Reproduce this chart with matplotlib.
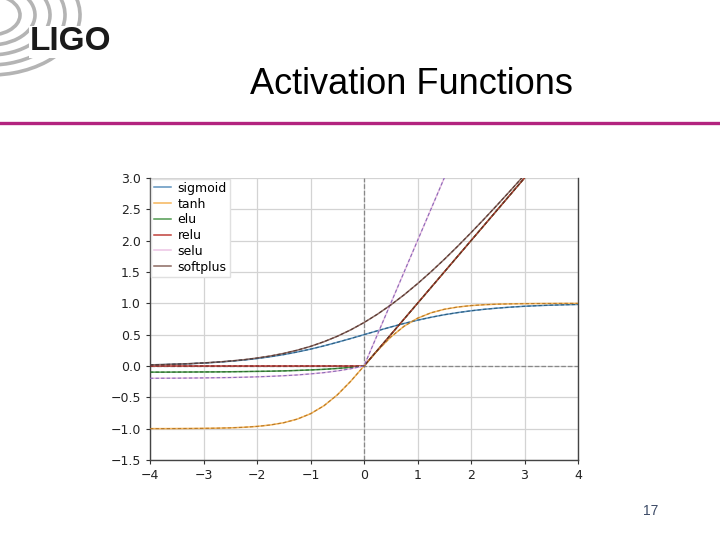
import matplotlib
matplotlib.use("Agg")
import matplotlib.pyplot as plt
from matplotlib.patches import Arc

# x samples and values
x_vals = [-4.0, -3.75, -3.5, -3.25, -3.0, -2.75, -2.5, -2.25, -2.0, -1.75, -1.5,
          -1.25, -1.0, -0.75, -0.5, -0.25, 0.0, 0.25, 0.5, 0.75, 1.0, 1.25, 1.5,
          1.75, 2.0, 2.25, 2.5, 2.75, 3.0, 3.25, 3.5, 3.75, 4.0]

sigmoid = [0.018, 0.023, 0.029, 0.037, 0.047, 0.060, 0.076, 0.095, 0.119, 0.148, 0.182,
           0.223, 0.269, 0.321, 0.378, 0.438, 0.500, 0.562, 0.622, 0.679, 0.731, 0.777,
           0.818, 0.852, 0.881, 0.905, 0.924, 0.940, 0.953, 0.963, 0.971, 0.977, 0.982]
tanh = [-0.999, -0.999, -0.998, -0.997, -0.995, -0.992, -0.987, -0.978, -0.964, -0.941,
        -0.905, -0.848, -0.762, -0.635, -0.462, -0.245, 0.0, 0.245, 0.462, 0.635, 0.762,
        0.848, 0.905, 0.941, 0.964, 0.978, 0.987, 0.992, 0.995, 0.997, 0.998, 0.999, 0.999]
elu = [-0.098, -0.098, -0.097, -0.096, -0.095, -0.094, -0.092, -0.089, -0.086, -0.083,
       -0.078, -0.071, -0.063, -0.053, -0.039, -0.022, 0.0, 0.25, 0.5, 0.75, 1.0, 1.25,
       1.5, 1.75, 2.0, 2.25, 2.5, 2.75, 3.0, 3.25, 3.5, 3.75, 4.0]
relu = [0.0, 0.0, 0.0, 0.0, 0.0, 0.0, 0.0, 0.0, 0.0, 0.0, 0.0, 0.0, 0.0, 0.0, 0.0, 0.0,
        0.0, 0.25, 0.5, 0.75, 1.0, 1.25, 1.5, 1.75, 2.0, 2.25, 2.5, 2.75, 3.0, 3.25, 3.5,
        3.75, 4.0]
selu = [-0.196, -0.195, -0.194, -0.192, -0.190, -0.187, -0.184, -0.179, -0.173, -0.165,
        -0.155, -0.143, -0.126, -0.106, -0.079, -0.044, 0.0, 0.5, 1.0, 1.5, 2.0, 2.5,
        3.0, 3.5, 4.0, 4.5, 5.0, 5.5, 6.0, 6.5, 7.0, 7.5, 8.0]
softplus = [0.018, 0.023, 0.030, 0.038, 0.049, 0.062, 0.079, 0.100, 0.127, 0.160, 0.201,
            0.252, 0.313, 0.387, 0.474, 0.576, 0.693, 0.826, 0.974, 1.136, 1.313, 1.502,
            1.701, 1.910, 2.127, 2.350, 2.579, 2.812, 3.049, 3.288, 3.530, 3.773, 4.018]

names = ['sigmoid', 'tanh', 'elu', 'relu', 'selu', 'softplus']
series = [sigmoid, tanh, elu, relu, selu, softplus]
x_ticks = [-4, -3, -2, -1, 0, 1, 2, 3, 4]
y_ticks = [-1.5, -1.0, -0.5, 0.0, 0.5, 1.0, 1.5, 2.0, 2.5, 3.0]

# solid colours (legend) and darker dashed overlay
solid_cols = ['#5f93bf', '#f5b55a', '#4f9a4f', '#c0403a', '#ecc3e4', '#8c6a62']
dash_cols = ['#2d5f80', '#b87a2a', '#2e6a2e', '#7a2320', '#8a6ab8', '#5a3a34']

fig = plt.figure(figsize=(7.2, 5.4), dpi=100)

# --- slide decoration ---
W, H = 720, 540
for a in [30, 45, 60, 75, 90]:
    arc = Arc((-10 / W, 1 - 15 / H), 2 * a / W, 2 * a * 0.667 / H, theta1=-100, theta2=95,
              transform=fig.transFigure, color='#b4b4b4', lw=2.6)
    fig.add_artist(arc)
fig.text(30 / W, 1 - 42 / H, 'LIGO', family='Liberation Sans', weight='bold',
         fontsize=24, color='#1a1a1a', va='center', ha='left',
         bbox=dict(facecolor='white', edgecolor='none', pad=0.5))
fig.text(411 / W, 1 - 84 / H, 'Activation Functions', family='Liberation Sans',
         fontsize=26, color='black', ha='center', va='center')
fig.add_artist(plt.Line2D([0, 1], [1 - 122.5 / H, 1 - 122.5 / H],
                          transform=fig.transFigure, color='#b3247f', lw=2.4))
fig.text(651 / W, 1 - 511 / H, '17', family='Liberation Sans', fontsize=10,
         color='#3c4a66', ha='center', va='center')

# --- chart ---
ax = fig.add_axes([150 / W, 1 - 460 / H, 428 / W, 282 / H])
ax.grid(True, color='#d3d3d3', lw=0.9)
ax.set_axisbelow(True)
ax.axhline(0, color='#888888', ls='--', lw=0.9, zorder=1)
ax.axvline(0, color='#888888', ls='--', lw=0.9, zorder=1)

for name, y, sc, dc in zip(names, series, solid_cols, dash_cols):
    ax.plot(x_vals, y, color=sc, lw=1.1, label=name, zorder=2)
    ax.plot(x_vals, y, color=dc, lw=0.8, ls=(0, (3, 2)), zorder=3)

ax.set_xlim(-4, 4)
ax.set_ylim(-1.5, 3.0)
ax.set_xticks(x_ticks)
ax.set_yticks(y_ticks)
ax.tick_params(labelsize=9, length=3, color='#333333', labelcolor='#222222')
ax.spines['top'].set_visible(False)
for s in ['left', 'bottom', 'right']:
    ax.spines[s].set_color('#444444')
    ax.spines[s].set_linewidth(1.0)

leg = ax.legend(loc='upper left', fontsize=9, handlelength=1.4, handletextpad=0.5,
                labelspacing=0.22, borderpad=0.25, borderaxespad=0.05, fancybox=False,
                framealpha=1.0, edgecolor='#e0e0e0')

fig.savefig('out.png', dpi=100)
